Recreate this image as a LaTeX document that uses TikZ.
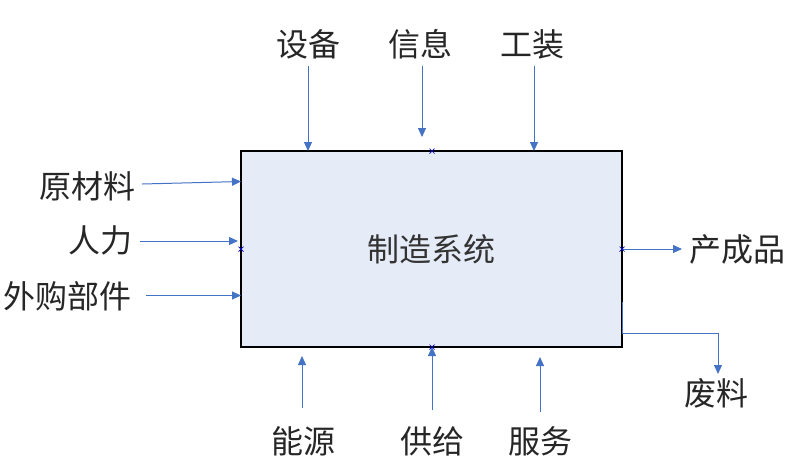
\documentclass[tikz,border=0pt]{standalone}
\usepackage{fontspec}
\newfontfamily\cjk{Noto Sans CJK SC}
\usetikzlibrary{arrows.meta}
\definecolor{arrowblue}{HTML}{4472C4}
\definecolor{boxfill}{HTML}{E6ECF7}
\tikzset{
  lbl/.style={font=\cjk\fontsize{32}{32}\selectfont, inner sep=0pt, text=black!85},
  flow/.style={draw=arrowblue, line width=1pt, -{Triangle[length=9pt,width=8pt]}},
  xmarker/.style={draw=blue!80!black, line width=0.7pt}
}
\begin{document}
\begin{tikzpicture}[x=1pt,y=-1pt]
\useasboundingbox (0,0) rectangle (811,475);
\node[draw=black, line width=1.2pt, fill=boxfill, minimum width=381pt, minimum height=196pt, inner sep=0pt,
  font=\cjk\fontsize{32}{32}\selectfont, text=black!80] (sys) at (431.5,249) {制造系统};
% labels
\node[lbl] (shebei) at (308,44) {设备};
\node[lbl] (xinxi) at (420,44) {信息};
\node[lbl] (gongzhuang) at (532,44) {工装};
\node[lbl] (ycl) at (87,186) {原材料};
\node[lbl] (renli) at (100,240) {人力};
\node[lbl] (wgbj) at (68,296) {外购部件};
\node[lbl] (ccp) at (737,249) {产成品};
\node[lbl] (feiliao) at (716,393) {废料};
\node[lbl] (nengyuan) at (303,441) {能源};
\node[lbl] (gongji) at (432,441) {供给};
\node[lbl] (fuwu) at (540,441) {服务};
% free-end coordinates
\coordinate (t1s) at (308,66); \coordinate (t1e) at (308,151);
\coordinate (t2s) at (422,66); \coordinate (t2e) at (422,137);
\coordinate (t3s) at (534,66); \coordinate (t3e) at (534,151);
\coordinate (l1s) at (142,184); \coordinate (l1e) at (241,181.5);
\coordinate (l2s) at (140,241); \coordinate (l2e) at (238,241);
\coordinate (l3s) at (146,295.5); \coordinate (l3e) at (241,295.5);
\coordinate (r1s) at (622,249); \coordinate (r1e) at (682,249);
\coordinate (w1) at (622,302); \coordinate (w2) at (622,333); \coordinate (w3) at (718,333); \coordinate (w4) at (718,374);
\coordinate (b1s) at (302,408); \coordinate (b1e) at (302,356);
\coordinate (b2s) at (432,410); \coordinate (b2e) at (432,347);
\coordinate (b3s) at (540,412); \coordinate (b3e) at (540,357);
% arrows
\draw[flow] (t1s) -- (t1e);
\draw[flow] (t2s) -- (t2e);
\draw[flow] (t3s) -- (t3e);
\draw[flow] (l1s) -- (l1e);
\draw[flow] (l2s) -- (l2e);
\draw[flow] (l3s) -- (l3e);
\draw[flow] (r1s) -- (r1e);
\draw[flow] (w1) -- (w2) -- (w3) -- (w4);
\draw[flow] (b1s) -- (b1e);
\draw[flow] (b2s) -- (b2e);
\draw[flow] (b3s) -- (b3e);
% connection markers
\foreach \p in {(432,151),(241,249),(622,249),(432,347)}{
  \draw[xmarker] \p ++(-2.5,-2.5) -- ++(5,5);
  \draw[xmarker] \p ++(-2.5,2.5) -- ++(5,-5);
}
\end{tikzpicture}
\end{document}
